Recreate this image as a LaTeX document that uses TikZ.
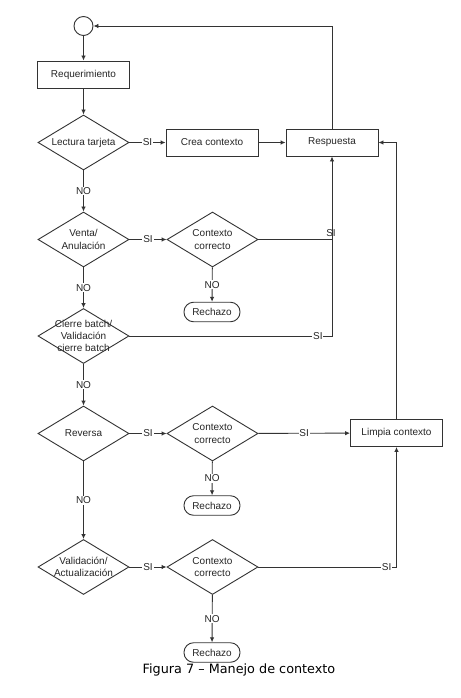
\documentclass[tikz,border=0pt]{standalone}
\usepackage{fontspec}
\setmainfont{Liberation Sans}
\newfontfamily\capfont{DejaVu Sans}
\usetikzlibrary{shapes.geometric,arrows.meta}
\begin{document}
\begin{tikzpicture}[x=1pt,y=-1pt,
 every node/.style={font=\fontsize{10}{12.3}\selectfont, text=black!85},
 ln/.style={draw=black!80, line width=0.9pt},
 arr/.style={ln, -{Latex[length=5pt,width=4.5pt]}},
 box/.style={draw=black!80, line width=0.9pt, rectangle, minimum width=92pt, minimum height=27pt, inner sep=0pt},
 dec/.style={draw=black!80, line width=0.9pt, diamond, minimum width=91pt, minimum height=55pt, inner sep=0pt},
 rej/.style={draw=black!80, line width=0.9pt, rectangle, rounded corners=9.5pt, minimum width=56pt, minimum height=19.5pt, inner sep=0pt},
 lab/.style={fill=white, inner sep=0.8pt},
 dtext/.style={align=center, inner sep=0pt},
]
\fill[white] (0,0) rectangle (460,698);
\useasboundingbox (0,0) rectangle (460,698);

% nodes
\node[circle, draw=black!80, line width=0.9pt, minimum size=19pt, inner sep=0pt] (start) at (83.5,26) {};
\node[box] (req) at (83.5,74.5) {Requerimiento};
\node[dec, label={[dtext]center:Lectura tarjeta}] (lect) at (83.5,142.5) {};
\node[box] (crea) at (212,142.5) {Crea contexto};
\node[box] (resp) at (332,142.5) {Respuesta};
\node[dec, label={[dtext]center:{Venta/\\Anulación}}] (venta) at (83.5,239.5) {};
\node[dec, label={[dtext]center:{Contexto\\correcto}}] (ctxa) at (212.5,239.5) {};
\node[rej] (reja) at (212,312) {Rechazo};
\node[dec, label={[dtext]center:{Cierre batch/\\Validación\\cierre batch}}] (cierre) at (83.5,336) {};
\node[dec, label={[dtext]center:Reversa}] (rev) at (83.5,433.5) {};
\node[dec, label={[dtext]center:{Contexto\\correcto}}] (ctxb) at (212.5,433.5) {};
\node[rej] (rejb) at (212,505.5) {Rechazo};
\node[box] (limp) at (396.5,433) {Limpia contexto};
\node[dec, label={[dtext]center:{Validación/\\Actualización}}] (val) at (83.5,567) {};
\node[dec, label={[dtext]center:{Contexto\\correcto}}] (ctxc) at (212.5,567) {};
\node[rej] (rejc) at (212,652.5) {Rechazo};
\node[font=\capfont\fontsize{12.8}{14}\selectfont, text=black] (cap) at (239,669.5) {Figura 7 – Manejo de contexto};

% connectors
\draw[arr] (start) -- (req);
\draw[arr] (req) -- (lect);
\draw[arr] (lect) -- node[lab]{SI} (crea);
\draw[arr] (crea) -- (resp);
\draw[arr] (resp.north) |- (start.east);
\draw[arr] (lect) -- node[lab]{NO} (venta);
\draw[arr] (venta) -- node[lab]{SI} (ctxa);
\draw[arr] (venta) -- node[lab]{NO} (cierre);
\draw[arr] (ctxa) -- node[lab]{NO} (reja);
\coordinate (ja) at (resp.south |- ctxa.east);
\draw[ln] (ctxa.east) -- (ja);
\node at (331,233) {SI};
\draw[arr] (cierre.east) -| node[lab, pos=0.465]{SI} (resp.south);
\draw[arr] (cierre) -- node[lab]{NO} (rev);
\draw[arr] (rev) -- node[lab]{SI} (ctxb);
\draw[arr] (ctxb) -- node[lab]{SI} (limp);
\draw[arr] (ctxb) -- node[lab]{NO} (rejb);
\draw[arr] (rev) -- node[lab]{NO} (val);
\draw[arr] (val) -- node[lab]{SI} (ctxc);
\draw[arr] (ctxc) -- node[lab]{NO} (rejc);
\draw[arr] (ctxc.east) -| node[lab, pos=0.464]{SI} (limp.south);
\draw[arr] (limp.north) |- (resp.east);
\end{tikzpicture}
\end{document}
